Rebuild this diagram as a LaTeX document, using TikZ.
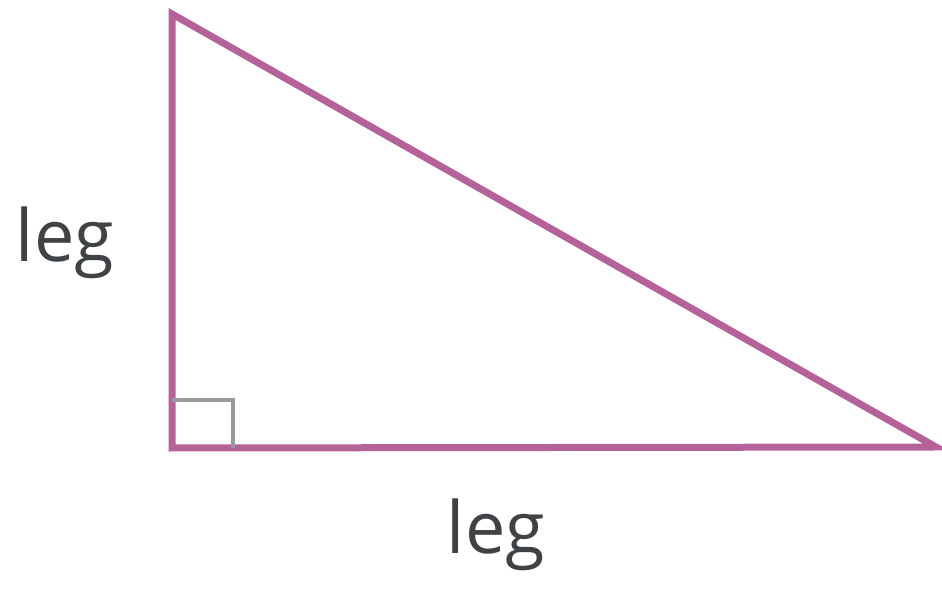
\documentclass[tikz,border=0pt]{standalone}
\usepackage{fontspec}
\setmainfont{Open Sans}
\definecolor{tri}{HTML}{B5619A}
\definecolor{ink}{HTML}{3F4346}
\definecolor{mark}{HTML}{9A9A9A}
\begin{document}
\begin{tikzpicture}[x=1pt,y=1pt,
  side/.style={draw=tri,line width=7pt,line join=miter},
  ramark/.style={draw=mark,line width=4pt},
  lbl/.style={text=ink,font=\fontsize{72}{72}\selectfont,anchor=base,inner sep=0pt}]
\useasboundingbox (0,0) rectangle (942,594);
\coordinate (A) at (172,580);
\coordinate (B) at (172,146);
\coordinate (C) at (936,147);
\draw[side] (A) -- (B) -- (C) -- cycle;
\coordinate (m1) at (172,194);
\coordinate (m2) at (233,194);
\coordinate (m3) at (233,146);
\draw[ramark] (m1) -- (m2) -- (m3);
\node[lbl] (leftleg) at (65,332) {leg};
\node[lbl] (botleg) at (496,40) {leg};
\end{tikzpicture}
\end{document}
